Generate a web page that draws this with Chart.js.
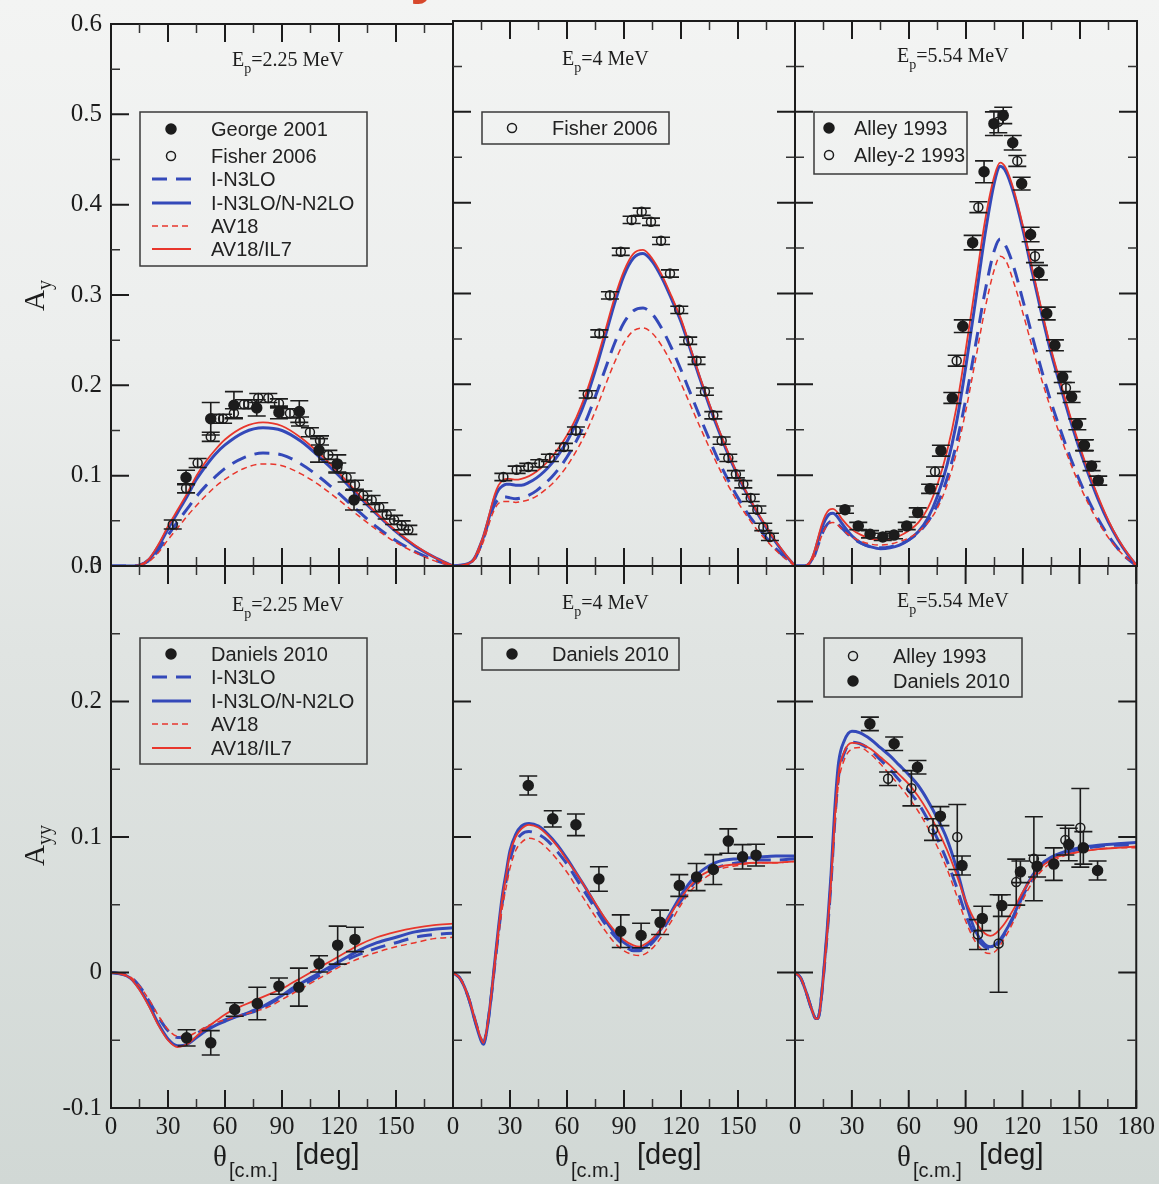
<!DOCTYPE html>
<html lang="en">
<head>
<meta charset="utf-8">
<title>p-3He analyzing powers Ay and Ayy</title>
<script src="https://cdn.jsdelivr.net/npm/chart.js@4.4.1/dist/chart.umd.min.js"></script>
<style>
  html, body { margin: 0; padding: 0; }
  body { width: 1159px; height: 1184px; position: relative; overflow: hidden;
    background: linear-gradient(180deg, #f3f4f3 0%, #eceeed 30%, #e0e4e2 55%, #d1d8d5 100%); }
  canvas { position: absolute; left: 0; top: 0; }
</style>
</head>
<body>
<script>
// ================= DATA =================
const X_TICKS = [0, 30, 60, 90, 120, 150, 180];
const AY_TICKS = [0, 0.1, 0.2, 0.3, 0.4, 0.5, 0.6];
const AYY_TICKS = [-0.1, 0, 0.1, 0.2, 0.3];
const ENERGIES = ['2.25', '4', '5.54'];

// ---- Ay, Ep = 2.25 MeV ----
const AY225_ANGLE = [0,10,15,20,25,30,35,40,45,50,55,60,70,80,90,100,110,120,130,140,150,160,170,180];
const AY225_IN3LO = [0,0,0.001,0.006,0.018,0.034,0.049,0.063,0.077,0.089,0.099,0.108,0.120,0.125,0.123,0.113,0.098,0.080,0.061,0.043,0.028,0.016,0.007,0];
const AY225_IN3LO_NN2LO = [0,0,0.001,0.007,0.022,0.041,0.059,0.077,0.096,0.111,0.124,0.134,0.148,0.153,0.150,0.138,0.120,0.100,0.078,0.057,0.038,0.022,0.010,0];
const AY225_AV18 = [0,0,0.001,0.005,0.015,0.029,0.042,0.055,0.067,0.078,0.088,0.096,0.108,0.113,0.111,0.102,0.089,0.073,0.056,0.040,0.026,0.015,0.006,0];
const AY225_AV18_IL7 = [0,0,0.001,0.008,0.024,0.044,0.062,0.080,0.100,0.116,0.129,0.140,0.154,0.159,0.155,0.142,0.124,0.103,0.080,0.058,0.039,0.023,0.010,0];
const AY225_GEORGE_ANGLE = [39.5,52.5,64.7,76.7,88.4,99.1,109.5,119.1,127.9];
const AY225_GEORGE = [0.098,0.163,0.178,0.175,0.170,0.171,0.128,0.113,0.073];
const AY225_GEORGE_ERR = [0.008,0.018,0.015,0.009,0.007,0.012,0.013,0.010,0.011];
const AY225_FISHER_ANGLE = [32.5,39.5,45.6,52.5,57,59,64.7,70,72.3,77.5,82.8,88.4,94.2,99.5,104.7,110,114.4,119.1,124,128.4,132.8,137.2,141.2,145.1,149,153,156.5];
const AY225_FISHER = [0.046,0.086,0.114,0.143,0.163,0.163,0.169,0.179,0.179,0.186,0.186,0.180,0.169,0.160,0.148,0.139,0.123,0.109,0.098,0.090,0.078,0.073,0.065,0.057,0.051,0.045,0.040];
const AY225_FISHER_ERR = [0.005,0.005,0.005,0.005,0.005,0.005,0.005,0.005,0.005,0.005,0.005,0.005,0.005,0.005,0.005,0.005,0.005,0.005,0.005,0.005,0.005,0.005,0.005,0.005,0.005,0.005,0.005];

// ---- Ay, Ep = 4 MeV ----
const AY4_ANGLE = [0,5,10,12,14,16,18,20,22,24,26,28,30,33,36,40,44,48,52,56,60,65,70,75,80,85,90,95,100,105,110,115,120,125,130,135,140,145,150,155,160,165,170,175,180];
const AY4_IN3LO = [0,0.001,0.004,0.010,0.019,0.030,0.044,0.058,0.068,0.074,0.076,0.076,0.075,0.074,0.075,0.078,0.083,0.090,0.098,0.108,0.120,0.138,0.160,0.187,0.216,0.245,0.268,0.281,0.284,0.277,0.261,0.240,0.216,0.190,0.164,0.139,0.115,0.094,0.075,0.058,0.044,0.031,0.019,0.009,0];
const AY4_IN3LO_NN2LO = [0,0.001,0.005,0.011,0.021,0.032,0.046,0.061,0.075,0.084,0.088,0.090,0.090,0.089,0.089,0.092,0.097,0.104,0.113,0.124,0.137,0.158,0.184,0.216,0.252,0.289,0.320,0.339,0.344,0.335,0.317,0.294,0.269,0.238,0.206,0.176,0.148,0.122,0.099,0.078,0.059,0.042,0.026,0.012,0];
const AY4_AV18 = [0,0.001,0.004,0.009,0.017,0.027,0.040,0.053,0.063,0.069,0.071,0.071,0.071,0.070,0.071,0.073,0.077,0.083,0.090,0.099,0.110,0.127,0.147,0.171,0.198,0.224,0.246,0.259,0.262,0.256,0.242,0.223,0.201,0.177,0.153,0.130,0.108,0.088,0.070,0.054,0.040,0.028,0.017,0.008,0];
const AY4_AV18_IL7 = [0,0.001,0.005,0.012,0.022,0.033,0.048,0.064,0.079,0.089,0.094,0.096,0.096,0.095,0.096,0.099,0.104,0.111,0.120,0.131,0.144,0.164,0.190,0.222,0.258,0.295,0.325,0.344,0.348,0.338,0.320,0.297,0.272,0.240,0.208,0.178,0.150,0.124,0.100,0.079,0.060,0.043,0.027,0.013,0];
const AY4_FISHER_ANGLE = [26.5,33.5,39.6,45.4,51,58.4,64.7,70.9,77,82.6,88.3,94,99.3,104.2,109.5,114.2,119.1,123.8,128.2,132.6,137,141.4,144.9,148.9,152.8,156.7,160.2,163.3,166.8];
const AY4_FISHER = [0.098,0.106,0.109,0.113,0.119,0.131,0.149,0.189,0.256,0.298,0.346,0.381,0.390,0.379,0.358,0.322,0.282,0.248,0.226,0.192,0.166,0.138,0.119,0.101,0.090,0.075,0.062,0.043,0.032];
const AY4_FISHER_ERR = [0.004,0.004,0.004,0.004,0.004,0.004,0.004,0.004,0.004,0.004,0.004,0.004,0.004,0.004,0.004,0.004,0.004,0.004,0.004,0.004,0.004,0.004,0.004,0.004,0.004,0.004,0.004,0.004,0.004];

// ---- Ay, Ep = 5.54 MeV ----
const AY554_ANGLE = [0,5,8,10,12,14,16,18,20,22,25,30,35,40,45,50,55,60,65,70,75,80,85,90,95,100,105,108,111,115,120,125,130,135,140,145,150,155,160,165,170,175,180];
const AY554_IN3LO = [0,0,0.003,0.010,0.022,0.034,0.043,0.048,0.049,0.047,0.041,0.031,0.025,0.021,0.020,0.021,0.024,0.029,0.037,0.049,0.068,0.096,0.135,0.185,0.243,0.302,0.348,0.360,0.352,0.330,0.292,0.252,0.214,0.179,0.148,0.119,0.093,0.070,0.050,0.033,0.019,0.008,0];
const AY554_IN3LO_NN2LO = [0,0,0.004,0.013,0.027,0.041,0.051,0.057,0.058,0.055,0.046,0.033,0.025,0.021,0.019,0.020,0.023,0.029,0.038,0.053,0.077,0.111,0.158,0.221,0.292,0.365,0.423,0.440,0.434,0.411,0.370,0.322,0.276,0.233,0.196,0.160,0.127,0.098,0.071,0.048,0.029,0.013,0];
const AY554_AV18 = [0,0,0.003,0.010,0.021,0.033,0.042,0.047,0.048,0.046,0.040,0.032,0.027,0.024,0.023,0.024,0.027,0.031,0.038,0.048,0.064,0.089,0.125,0.172,0.227,0.283,0.327,0.341,0.336,0.313,0.278,0.240,0.204,0.171,0.141,0.113,0.088,0.066,0.047,0.031,0.018,0.008,0];
const AY554_AV18_IL7 = [0,0,0.005,0.015,0.030,0.045,0.056,0.062,0.063,0.060,0.051,0.040,0.034,0.030,0.029,0.030,0.033,0.039,0.048,0.064,0.090,0.126,0.175,0.240,0.310,0.380,0.430,0.444,0.438,0.415,0.374,0.326,0.280,0.237,0.200,0.164,0.131,0.101,0.074,0.050,0.030,0.014,0];
const AY554_ALLEY_ANGLE = [26.3,33.3,39.5,46.2,52.1,58.8,64.6,71.1,76.8,82.8,88.3,93.5,99.5,104.7,109.6,114.6,119.3,124,128.4,132.5,136.8,140.9,145.6,148.6,152.1,156.1,159.6];
const AY554_ALLEY = [0.062,0.044,0.035,0.032,0.034,0.044,0.059,0.085,0.127,0.185,0.264,0.356,0.434,0.487,0.496,0.466,0.421,0.365,0.323,0.278,0.243,0.208,0.186,0.156,0.133,0.110,0.094];
const AY554_ALLEY_ERR = [0.004,0.004,0.004,0.004,0.004,0.004,0.005,0.005,0.006,0.006,0.007,0.008,0.012,0.013,0.009,0.008,0.007,0.008,0.008,0.007,0.006,0.006,0.006,0.006,0.006,0.005,0.005];
const AY554_ALLEY2_ANGLE = [73.7,85.1,96.5,107,117,126.3,142.6,152.6];
const AY554_ALLEY2 = [0.104,0.226,0.395,0.489,0.446,0.341,0.196,0.133];
const AY554_ALLEY2_ERR = [0.005,0.006,0.006,0.012,0.006,0.007,0.006,0.006];

// ---- Ayy, Ep = 2.25 MeV ----
const AYY225_ANGLE = [0,5,10,15,20,25,30,35,40,45,50,55,60,65,70,75,80,85,90,95,100,105,110,115,120,125,130,140,150,160,170,180];
const AYY225_IN3LO = [0,-0.001,-0.003,-0.010,-0.021,-0.033,-0.043,-0.048,-0.048,-0.045,-0.041,-0.038,-0.035,-0.033,-0.031,-0.029,-0.026,-0.022,-0.018,-0.014,-0.010,-0.006,-0.002,0.002,0.006,0.010,0.013,0.018,0.022,0.026,0.028,0.029];
const AYY225_IN3LO_NN2LO = [0,-0.001,-0.004,-0.012,-0.024,-0.038,-0.049,-0.054,-0.053,-0.048,-0.043,-0.039,-0.036,-0.033,-0.031,-0.028,-0.025,-0.021,-0.017,-0.012,-0.008,-0.004,0.000,0.004,0.008,0.012,0.016,0.022,0.026,0.030,0.032,0.033];
const AYY225_AV18 = [0,-0.001,-0.003,-0.010,-0.020,-0.032,-0.042,-0.047,-0.047,-0.044,-0.040,-0.037,-0.035,-0.033,-0.031,-0.029,-0.027,-0.024,-0.020,-0.016,-0.012,-0.008,-0.004,0.000,0.004,0.007,0.010,0.015,0.019,0.022,0.025,0.026];
const AYY225_AV18_IL7 = [0,-0.001,-0.004,-0.013,-0.025,-0.039,-0.050,-0.055,-0.053,-0.047,-0.041,-0.036,-0.031,-0.027,-0.024,-0.021,-0.018,-0.015,-0.012,-0.008,-0.004,0.000,0.004,0.008,0.012,0.016,0.020,0.026,0.030,0.033,0.035,0.036];
const AYY225_DANIELS_ANGLE = [39.8,52.5,65.1,77,88.4,98.9,109.5,119.3,128.4];
const AYY225_DANIELS = [-0.0482,-0.0519,-0.0273,-0.0229,-0.0101,-0.0108,0.0064,0.0202,0.0244];
const AYY225_DANIELS_ERR = [0.006,0.009,0.005,0.012,0.006,0.014,0.006,0.014,0.009];

// ---- Ayy, Ep = 4 MeV ----
const AYY4_ANGLE = [0,4,8,12,15,16,18,20,22,24,26,28,30,33,36,40,45,50,55,60,65,70,75,80,85,90,95,98,100,105,110,115,120,125,130,135,140,150,160,170,180];
const AYY4_IN3LO = [0,-0.005,-0.018,-0.037,-0.050,-0.052,-0.040,-0.019,0.006,0.030,0.052,0.068,0.083,0.096,0.102,0.104,0.102,0.097,0.089,0.080,0.069,0.058,0.047,0.036,0.027,0.020,0.016,0.016,0.017,0.022,0.031,0.042,0.053,0.063,0.070,0.075,0.078,0.081,0.083,0.083,0.084];
const AYY4_IN3LO_NN2LO = [0,-0.005,-0.018,-0.038,-0.051,-0.053,-0.041,-0.019,0.008,0.034,0.057,0.074,0.090,0.102,0.108,0.110,0.108,0.102,0.094,0.084,0.073,0.062,0.050,0.039,0.029,0.022,0.018,0.0175,0.018,0.024,0.033,0.045,0.057,0.067,0.074,0.079,0.082,0.084,0.085,0.086,0.086];
const AYY4_AV18 = [0,-0.005,-0.017,-0.036,-0.049,-0.051,-0.040,-0.020,0.004,0.027,0.048,0.063,0.077,0.090,0.096,0.099,0.097,0.091,0.083,0.074,0.063,0.052,0.041,0.031,0.022,0.016,0.013,0.0125,0.013,0.018,0.027,0.038,0.050,0.060,0.067,0.072,0.076,0.079,0.081,0.081,0.082];
const AYY4_AV18_IL7 = [0,-0.005,-0.018,-0.037,-0.050,-0.052,-0.040,-0.018,0.008,0.033,0.055,0.072,0.088,0.100,0.106,0.109,0.107,0.101,0.093,0.083,0.073,0.062,0.051,0.040,0.031,0.024,0.020,0.019,0.020,0.025,0.033,0.044,0.055,0.064,0.071,0.075,0.078,0.080,0.081,0.081,0.082];
const AYY4_DANIELS_ANGLE = [39.6,52.5,64.7,76.8,88.3,99,109,119.1,128.2,137,144.9,152.4,159.5];
const AYY4_DANIELS = [0.138,0.1134,0.109,0.069,0.0305,0.0273,0.037,0.0642,0.0704,0.076,0.097,0.0854,0.0866];
const AYY4_DANIELS_ERR = [0.007,0.006,0.008,0.009,0.012,0.009,0.009,0.008,0.010,0.011,0.009,0.009,0.008];

// ---- Ayy, Ep = 5.54 MeV ----
const AYY554_ANGLE = [0,3,6,9,11,12,13,15,17,19,21,23,26,30,34,40,45,50,55,60,65,70,75,80,85,90,95,100,103,106,110,115,120,125,130,135,140,150,160,170,180];
const AYY554_IN3LO = [0,-0.004,-0.015,-0.028,-0.034,-0.034,-0.029,-0.003,0.029,0.066,0.112,0.145,0.162,0.170,0.169,0.164,0.157,0.150,0.142,0.134,0.125,0.113,0.099,0.083,0.064,0.043,0.027,0.019,0.0175,0.019,0.027,0.040,0.056,0.069,0.078,0.084,0.087,0.091,0.093,0.094,0.094];
const AYY554_IN3LO_NN2LO = [0,-0.004,-0.015,-0.028,-0.034,-0.034,-0.029,-0.002,0.032,0.072,0.121,0.155,0.171,0.178,0.177,0.172,0.166,0.160,0.153,0.146,0.138,0.127,0.114,0.099,0.078,0.052,0.031,0.021,0.019,0.021,0.028,0.041,0.058,0.071,0.080,0.085,0.088,0.092,0.094,0.095,0.096];
const AYY554_AV18 = [0,-0.004,-0.015,-0.028,-0.034,-0.034,-0.029,-0.004,0.027,0.063,0.108,0.140,0.157,0.165,0.166,0.161,0.154,0.146,0.138,0.129,0.119,0.107,0.093,0.077,0.058,0.038,0.023,0.015,0.014,0.016,0.024,0.037,0.053,0.066,0.075,0.081,0.085,0.089,0.091,0.092,0.092];
const AYY554_AV18_IL7 = [0,-0.004,-0.015,-0.028,-0.034,-0.034,-0.029,-0.003,0.030,0.068,0.114,0.147,0.163,0.1695,0.169,0.165,0.159,0.153,0.146,0.139,0.130,0.119,0.106,0.091,0.073,0.053,0.038,0.029,0.027,0.029,0.035,0.046,0.059,0.070,0.078,0.083,0.086,0.089,0.091,0.092,0.093];
const AYY554_ALLEY_ANGLE = [49.1,61.4,72.8,85.6,96.5,107.4,116.7,126,142.6,150.5];
const AYY554_ALLEY = [0.143,0.136,0.1055,0.100,0.028,0.0214,0.0667,0.0839,0.0977,0.1068];
const AYY554_ALLEY_ERR = [0.005,0.013,0.008,0.024,0.011,0.036,0.017,0.031,0.011,0.029];
const AYY554_DANIELS_ANGLE = [39.5,52.3,64.6,76.7,88.1,98.8,109.1,118.9,127.7,136.5,144.4,152.1,159.6];
const AYY554_DANIELS = [0.1835,0.1688,0.1515,0.1154,0.079,0.0399,0.0494,0.0743,0.0785,0.080,0.0945,0.092,0.0753];
const AYY554_DANIELS_ERR = [0.005,0.005,0.005,0.007,0.007,0.009,0.008,0.008,0.008,0.012,0.012,0.012,0.007];

// ================= STYLE / LAYOUT =================
const PAGE_W = 1159, PAGE_H = 1184, Y_AXIS_W = 60, X_AXIS_H = 50, CAP = 9;
const BLUE = '#3449b9', RED = '#e8362c', INK = '#1c1c1c';
const SERIF = "'Liberation Serif', 'DejaVu Serif', serif";
const SANS = "'Liberation Sans', Arial, sans-serif";

const MODEL_STYLE = {
  'I-N3LO': { borderColor: BLUE, borderWidth: 3, borderDash: [15, 9], order: 2 },
  'I-N3LO/N-N2LO': { borderColor: BLUE, borderWidth: 3, borderDash: [], order: 2 },
  'AV18': { borderColor: RED, borderWidth: 1.5, borderDash: [6, 4], order: 1 },
  'AV18/IL7': { borderColor: RED, borderWidth: 1.8, borderDash: [], order: 1 }
};

function curve(label, ang, val) {
  return Object.assign({
    label, data: ang.map((a, i) => ({ x: a, y: val[i] })),
    pointRadius: 0, pointHitRadius: 0, fill: false, showLine: true,
    cubicInterpolationMode: 'monotone'
  }, MODEL_STYLE[label]);
}
function measured(label, ang, val, err, filled) {
  return {
    label, data: ang.map((a, i) => ({ x: a, y: val[i] })), errors: err, filled,
    showLine: false, pointRadius: filled ? 5 : 4.5, pointHoverRadius: 5, pointHitRadius: 0,
    pointBorderWidth: 1.5, pointBorderColor: INK, borderColor: INK,
    pointBackgroundColor: filled ? INK : 'rgba(0,0,0,0)', backgroundColor: filled ? INK : 'rgba(0,0,0,0)',
    order: 0
  };
}
const fmt = v => Math.abs(v) < 1e-9 ? '0' : String(Math.round(v * 10) / 10);

const PANELS = [
  { L: 111, R: 453, T: 21, B: 566, yTicks: AY_TICKS, showY: true, showX: false, rightTicks: false,
    energy: ENERGIES[0], title: [232, 66], yTitle: { x: 44, y: 311, sub: 'y' }, fragment: true,
    legend: { box: [140, 112, 367, 266], marker: 171, line: [152, 191], text: 211, rows: [129, 156, 179, 203, 226, 249] },
    datasets: [
      measured('George 2001', AY225_GEORGE_ANGLE, AY225_GEORGE, AY225_GEORGE_ERR, true),
      measured('Fisher 2006', AY225_FISHER_ANGLE, AY225_FISHER, AY225_FISHER_ERR, false),
      curve('I-N3LO', AY225_ANGLE, AY225_IN3LO),
      curve('I-N3LO/N-N2LO', AY225_ANGLE, AY225_IN3LO_NN2LO),
      curve('AV18', AY225_ANGLE, AY225_AV18),
      curve('AV18/IL7', AY225_ANGLE, AY225_AV18_IL7)
    ] },
  { L: 453, R: 795, T: 21, B: 566, yTicks: AY_TICKS, showY: false, showX: false, rightTicks: true,
    energy: ENERGIES[1], title: [562, 65],
    legend: { box: [482, 112, 669, 144], marker: 512, line: [493, 531], text: 552, rows: [128] },
    datasets: [
      measured('Fisher 2006', AY4_FISHER_ANGLE, AY4_FISHER, AY4_FISHER_ERR, false),
      curve('I-N3LO', AY4_ANGLE, AY4_IN3LO),
      curve('I-N3LO/N-N2LO', AY4_ANGLE, AY4_IN3LO_NN2LO),
      curve('AV18', AY4_ANGLE, AY4_AV18),
      curve('AV18/IL7', AY4_ANGLE, AY4_AV18_IL7)
    ] },
  { L: 795, R: 1137, T: 21, B: 566, yTicks: AY_TICKS, showY: false, showX: false, rightTicks: true,
    energy: ENERGIES[2], title: [897, 62],
    legend: { box: [814, 112, 967, 174], marker: 829, line: [815, 845], text: 854, rows: [128, 155] },
    datasets: [
      measured('Alley 1993', AY554_ALLEY_ANGLE, AY554_ALLEY, AY554_ALLEY_ERR, true),
      measured('Alley-2 1993', AY554_ALLEY2_ANGLE, AY554_ALLEY2, AY554_ALLEY2_ERR, false),
      curve('I-N3LO', AY554_ANGLE, AY554_IN3LO),
      curve('I-N3LO/N-N2LO', AY554_ANGLE, AY554_IN3LO_NN2LO),
      curve('AV18', AY554_ANGLE, AY554_AV18),
      curve('AV18/IL7', AY554_ANGLE, AY554_AV18_IL7)
    ] },
  { L: 111, R: 453, T: 566, B: 1108, yTicks: AYY_TICKS, showY: true, showX: true, hideLastX: true, rightTicks: false,
    energy: ENERGIES[0], title: [232, 611], yTitle: { x: 44, y: 866, sub: 'yy' }, xTitle: true,
    legend: { box: [140, 638, 367, 764], marker: 171, line: [152, 191], text: 211, rows: [654, 677, 701, 724, 748] },
    datasets: [
      measured('Daniels 2010', AYY225_DANIELS_ANGLE, AYY225_DANIELS, AYY225_DANIELS_ERR, true),
      curve('I-N3LO', AYY225_ANGLE, AYY225_IN3LO),
      curve('I-N3LO/N-N2LO', AYY225_ANGLE, AYY225_IN3LO_NN2LO),
      curve('AV18', AYY225_ANGLE, AYY225_AV18),
      curve('AV18/IL7', AYY225_ANGLE, AYY225_AV18_IL7)
    ] },
  { L: 453, R: 795, T: 566, B: 1108, yTicks: AYY_TICKS, showY: false, showX: true, hideLastX: true, rightTicks: true,
    energy: ENERGIES[1], title: [562, 609], xTitle: true,
    legend: { box: [482, 638, 679, 670], marker: 512, line: [493, 531], text: 552, rows: [654] },
    datasets: [
      measured('Daniels 2010', AYY4_DANIELS_ANGLE, AYY4_DANIELS, AYY4_DANIELS_ERR, true),
      curve('I-N3LO', AYY4_ANGLE, AYY4_IN3LO),
      curve('I-N3LO/N-N2LO', AYY4_ANGLE, AYY4_IN3LO_NN2LO),
      curve('AV18', AYY4_ANGLE, AYY4_AV18),
      curve('AV18/IL7', AYY4_ANGLE, AYY4_AV18_IL7)
    ] },
  { L: 795, R: 1137, T: 566, B: 1108, yTicks: AYY_TICKS, showY: false, showX: true, hideLastX: false, rightTicks: true,
    energy: ENERGIES[2], title: [897, 607], xTitle: true,
    legend: { box: [824, 638, 1022, 697], marker: 853, line: [835, 872], text: 893, rows: [656, 681] },
    datasets: [
      measured('Alley 1993', AYY554_ALLEY_ANGLE, AYY554_ALLEY, AYY554_ALLEY_ERR, false),
      measured('Daniels 2010', AYY554_DANIELS_ANGLE, AYY554_DANIELS, AYY554_DANIELS_ERR, true),
      curve('I-N3LO', AYY554_ANGLE, AYY554_IN3LO),
      curve('I-N3LO/N-N2LO', AYY554_ANGLE, AYY554_IN3LO_NN2LO),
      curve('AV18', AYY554_ANGLE, AYY554_AV18),
      curve('AV18/IL7', AYY554_ANGLE, AYY554_AV18_IL7)
    ] }
];

// ================= PLUGIN =================
const decor = {
  id: 'decor',
  beforeDatasetDraw(chart, args) {
    const ds = chart.data.datasets[args.index];
    if (!ds.errors) return;
    const { ctx } = chart, xs = chart.scales.x, ys = chart.scales.y;
    ctx.save();
    ctx.strokeStyle = INK; ctx.lineWidth = 1.6;
    ctx.beginPath();
    ds.data.forEach((p, i) => {
      const e = ds.errors[i];
      const px = xs.getPixelForValue(p.x);
      const y1 = ys.getPixelForValue(p.y + e), y2 = ys.getPixelForValue(p.y - e);
      ctx.moveTo(px, y1); ctx.lineTo(px, y2);
      ctx.moveTo(px - CAP, y1); ctx.lineTo(px + CAP, y1);
      ctx.moveTo(px - CAP, y2); ctx.lineTo(px + CAP, y2);
    });
    ctx.stroke();
    ctx.restore();
  },
  afterDraw(chart, _args, opts) {
    const P = PANELS[opts.idx];
    const { ctx, chartArea: a } = chart, xs = chart.scales.x, ys = chart.scales.y;
    ctx.save();
    // frame
    ctx.strokeStyle = INK; ctx.lineWidth = 2;
    ctx.strokeRect(a.left, a.top, a.right - a.left, a.bottom - a.top);
    // inward ticks
    const mid = arr => arr.slice(1).map((v, i) => (v + arr[i]) / 2);
    const xMaj = xs.ticks.map(t => t.value), yMaj = ys.ticks.map(t => t.value);
    const drawX = (vals, len) => vals.forEach(v => {
      const p = xs.getPixelForValue(v);
      ctx.moveTo(p, a.top); ctx.lineTo(p, a.top + len);
      ctx.moveTo(p, a.bottom); ctx.lineTo(p, a.bottom - len);
    });
    const drawY = (vals, len) => vals.forEach(v => {
      const p = ys.getPixelForValue(v);
      ctx.moveTo(a.left, p); ctx.lineTo(a.left + len, p);
      if (P.rightTicks) { ctx.moveTo(a.right, p); ctx.lineTo(a.right - len, p); }
    });
    ctx.lineWidth = 2; ctx.beginPath(); drawX(xMaj, 18); drawY(yMaj, 18); ctx.stroke();
    ctx.lineWidth = 1.5; ctx.strokeStyle = '#333'; ctx.beginPath(); drawX(mid(xMaj), 9); drawY(mid(yMaj), 9); ctx.stroke();

    // panel title  E_p = ... MeV
    ctx.fillStyle = INK; ctx.textAlign = 'left'; ctx.textBaseline = 'alphabetic';
    let tx = P.title[0]; const ty = P.title[1];
    ctx.font = '20px ' + SERIF; ctx.fillText('E', tx, ty); tx += ctx.measureText('E').width;
    ctx.font = '14px ' + SERIF; ctx.fillText('p', tx, ty + 7); tx += ctx.measureText('p').width;
    ctx.font = '20px ' + SERIF; ctx.fillText('=' + P.energy + ' MeV', tx, ty);

    // legend
    const lg = P.legend;
    ctx.strokeStyle = '#3a3a3a'; ctx.lineWidth = 1.5;
    ctx.strokeRect(lg.box[0], lg.box[1], lg.box[2] - lg.box[0], lg.box[3] - lg.box[1]);
    chart.data.datasets.forEach((ds, i) => {
      const y = lg.rows[i];
      if (y === undefined) return;
      if (ds.showLine === false) {
        ctx.beginPath(); ctx.arc(lg.marker, y, ds.filled ? 5 : 4.5, 0, Math.PI * 2);
        ctx.lineWidth = 1.5; ctx.strokeStyle = INK; ctx.fillStyle = INK;
        if (ds.filled) ctx.fill(); ctx.stroke();
      } else {
        ctx.beginPath(); ctx.strokeStyle = ds.borderColor; ctx.lineWidth = ds.borderWidth;
        ctx.setLineDash(ds.borderDash || []);
        ctx.moveTo(lg.line[0], y); ctx.lineTo(lg.line[1], y); ctx.stroke();
        ctx.setLineDash([]);
      }
      ctx.fillStyle = '#222'; ctx.font = '20px ' + SANS; ctx.textBaseline = 'middle';
      ctx.fillText(ds.label, lg.text, y + 1);
    });
    ctx.textBaseline = 'alphabetic';

    // y-axis title (rotated)
    if (P.yTitle) {
      ctx.save();
      ctx.translate(P.yTitle.x, P.yTitle.y); ctx.rotate(-Math.PI / 2);
      ctx.fillStyle = INK;
      ctx.font = '29px ' + SERIF; ctx.fillText('A', 0, 0);
      const w = ctx.measureText('A').width;
      ctx.font = '20px ' + SERIF; ctx.fillText(P.yTitle.sub, w, 7);
      ctx.restore();
    }
    // x-axis title
    if (P.xTitle) {
      ctx.fillStyle = INK;
      ctx.font = '29px ' + SERIF; ctx.fillText('\u03b8', P.L + 102, 1166);
      ctx.font = '20px ' + SANS; ctx.fillText('[c.m.]', P.L + 118, 1177);
      ctx.font = '29px ' + SANS; ctx.fillText('[deg]', P.L + 184, 1164);
    }
    // fragment of slide heading above the figure
    if (P.fragment) {
      ctx.fillStyle = '#d7482c'; ctx.font = 'bold 60px ' + SANS;
      ctx.fillText('y', 410, -8);
    }
    ctx.restore();
  }
};

// ================= BUILD =================
PANELS.forEach((P, idx) => {
  const cv = document.createElement('canvas');
  cv.width = PAGE_W; cv.height = PAGE_H;
  cv.style.width = PAGE_W + 'px'; cv.style.height = PAGE_H + 'px';
  document.body.appendChild(cv);
  new Chart(cv, {
    type: 'line',
    data: { datasets: P.datasets },
    options: {
      responsive: false, animation: false, devicePixelRatio: 1, events: [],
      layout: { padding: {
        left: P.showY ? P.L - Y_AXIS_W : P.L,
        right: PAGE_W - P.R,
        top: P.T,
        bottom: P.showX ? PAGE_H - P.B - X_AXIS_H : PAGE_H - P.B
      } },
      plugins: { legend: { display: false }, tooltip: { enabled: false }, decor: { idx } },
      scales: {
        x: {
          type: 'linear', min: 0, max: 180, display: P.showX,
          grid: { display: false, drawTicks: false }, border: { display: false },
          afterBuildTicks: s => { s.ticks = X_TICKS.map(v => ({ value: v })); },
          afterFit: P.showX ? (s => { s.height = X_AXIS_H; }) : undefined,
          ticks: { autoSkip: false, maxRotation: 0, minRotation: 0, padding: 4, color: INK,
            font: { family: SERIF, size: 25 },
            callback: v => (P.hideLastX && v === 180) ? '' : fmt(v) }
        },
        y: {
          type: 'linear', min: P.yTicks[0], max: P.yTicks[P.yTicks.length - 1], display: P.showY,
          grid: { display: false, drawTicks: false }, border: { display: false },
          afterBuildTicks: s => { s.ticks = P.yTicks.map(v => ({ value: v })); },
          afterFit: P.showY ? (s => { s.width = Y_AXIS_W; }) : undefined,
          ticks: { autoSkip: false, padding: 9, color: INK, font: { family: SERIF, size: 25 },
            callback: v => fmt(v) }
        }
      }
    },
    plugins: [decor]
  });
});
</script>
</body>
</html>
